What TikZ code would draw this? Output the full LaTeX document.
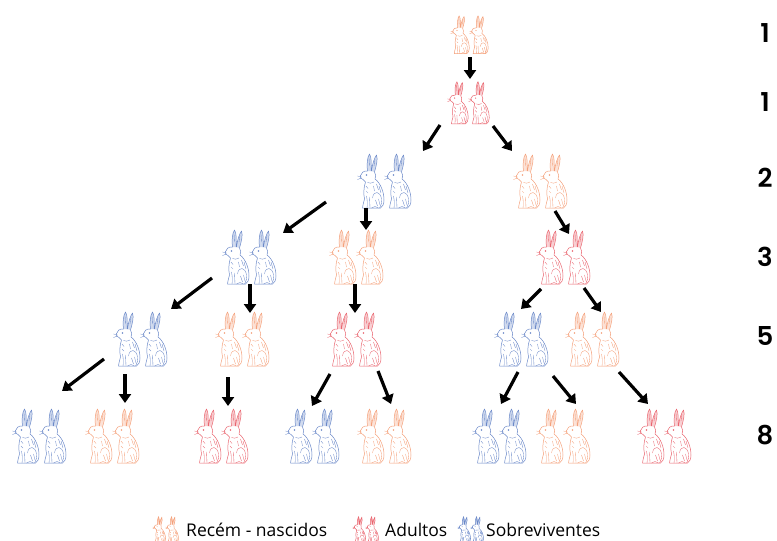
\documentclass[tikz,border=0pt]{standalone}
\usepackage{fontspec}
\setmainfont{Open Sans}
\newfontfamily\numfont{Poppins}[BoldFont={Poppins SemiBold}]
\usetikzlibrary{arrows.meta}
\definecolor{rorange}{HTML}{F4A07A}
\definecolor{rred}{HTML}{E9646E}
\definecolor{rblue}{HTML}{6A88C8}
\newcommand{\rabbitdraw}{%
  \begin{scope}[shift={(-13,-28)}]
    \fill[opacity=0.3] (9,19) .. controls (8,11) and (9,5) .. (11,2) .. controls (13,5) and (13,12) .. (12.5,19) -- cycle;
    \fill[opacity=0.3] (13,19) .. controls (14,11) and (16,6) .. (18,3) .. controls (19.5,7) and (18,13) .. (16,20) -- cycle;
    \draw[line width=0.5pt, line join=round]
      (9,19) .. controls (8,11) and (9,5) .. (11,2) .. controls (13,5) and (13,12) .. (12.5,19)
      (13,19) .. controls (14,11) and (16,6) .. (18,3) .. controls (19.5,7) and (18,13) .. (16,20)
      (9,19) .. controls (5,18.5) and (2.5,21) .. (1.8,24) .. controls (1.3,25.5) and (2.5,27) .. (4.5,27.5)
        .. controls (5.5,28.5) and (6.5,29.5) .. (7,30) .. controls (5,36) and (5,42) .. (6,47)
        .. controls (5,51) and (4,54) .. (4,56) -- (22,56) .. controls (24,55) and (25.5,52) .. (25.5,48)
        .. controls (25.5,40) and (22,31) .. (16.5,27) .. controls (17.5,25) and (17.5,22) .. (16,20);
    \draw[line width=0.35pt, line cap=round]
      (8,44) .. controls (9,49) and (9,53) .. (8.5,56)
      (11,45) -- (11.5,56)
      (14,46) .. controls (15,38) and (22,39) .. (23,47) .. controls (23.5,51) and (22.5,54) .. (21,56)
      (13,56) .. controls (15,54) and (18,54) .. (20,56)
      (9,30.5) .. controls (11,31.5) and (13,31.5) .. (15.5,30)
      (3,25) -- (-1,24) (3,26) -- (-1,27.5)
      (18,32) -- (20,38) (20.5,34) -- (22.5,41) (15,34) -- (16,39)
      (7.5,34) -- (9.5,36.5) (7.5,39) -- (9.5,41)
      (17,48) -- (19,54) (20,47) -- (21.5,53) (10.5,6) -- (11,14) (16.5,7) -- (15.5,14);
    \fill (8,23) circle[radius=0.9pt];
  \end{scope}}
\tikzset{
  rabbitpair/.pic={
    \begin{scope}[shift={(-13.5,0)}]\rabbitdraw\end{scope}
    \begin{scope}[shift={(13.5,0)}]\rabbitdraw\end{scope}
  },
  pairbox/.style={inner sep=0pt, minimum width=54pt, minimum height=58pt},
  arr/.style={line width=3.2pt, -{Triangle[width=12pt,length=9pt]}},
  count/.style={font=\numfont\bfseries\fontsize{26}{30}\selectfont, inner sep=0pt},
  legend/.style={font=\fontsize{17.5}{20}\selectfont, anchor=west, inner sep=0pt},
}
\begin{document}
\begin{tikzpicture}[x=1pt,y=-1pt]
\useasboundingbox (0,0) rectangle (777,541);

% pairs
\node[pairbox] (p00) at (470,34) {};
\pic[rorange, scale=0.7] at (p00) {rabbitpair};
\node[pairbox] (p10) at (469,102) {};
\pic[rred, scale=0.78] at (p10) {rabbitpair};

\node[pairbox] (p20) at (385,180) {};
\pic[rblue] at (p20) {rabbitpair};
\node[pairbox] (p21) at (541,180) {};
\pic[rorange] at (p21) {rabbitpair};

\node[pairbox] (p30) at (250,256) {};
\pic[rblue] at (p30) {rabbitpair};
\node[pairbox] (p31) at (357,256) {};
\pic[rorange] at (p31) {rabbitpair};
\node[pairbox] (p32) at (564,256) {};
\pic[rred] at (p32) {rabbitpair};

\node[pairbox] (p40) at (141,338) {};
\pic[rblue] at (p40) {rabbitpair};
\node[pairbox] (p41) at (243,338) {};
\pic[rorange] at (p41) {rabbitpair};
\node[pairbox] (p42) at (355,338) {};
\pic[rred] at (p42) {rabbitpair};
\node[pairbox] (p43) at (522,338) {};
\pic[rblue] at (p43) {rabbitpair};
\node[pairbox] (p44) at (593,338) {};
\pic[rorange] at (p44) {rabbitpair};

\node[pairbox] (p50) at (40,435) {};
\pic[rblue] at (p50) {rabbitpair};
\node[pairbox] (p51) at (113,435) {};
\pic[rorange] at (p51) {rabbitpair};
\node[pairbox] (p52) at (222,435) {};
\pic[rred] at (p52) {rabbitpair};
\node[pairbox] (p53) at (313,435) {};
\pic[rblue] at (p53) {rabbitpair};
\node[pairbox] (p54) at (385,435) {};
\pic[rorange] at (p54) {rabbitpair};
\node[pairbox] (p55) at (500,435) {};
\pic[rblue] at (p55) {rabbitpair};
\node[pairbox] (p56) at (564,435) {};
\pic[rorange] at (p56) {rabbitpair};
\node[pairbox] (p57) at (665,435) {};
\pic[rred] at (p57) {rabbitpair};

% arrow ends
\coordinate (a01s) at (470,57);  \coordinate (a01e) at (470,79);
\coordinate (a1Ls) at (440,125); \coordinate (a1Le) at (423,151);
\coordinate (a1Rs) at (493,126); \coordinate (a1Re) at (512,151);
\coordinate (a2as) at (326,202); \coordinate (a2ae) at (283,233);
\coordinate (a2bs) at (366,208); \coordinate (a2be) at (366,230);
\coordinate (a2cs) at (555,211); \coordinate (a2ce) at (569,234);
\coordinate (a3as) at (212,278); \coordinate (a3ae) at (171,309);
\coordinate (a3bs) at (250,284); \coordinate (a3be) at (250,313);
\coordinate (a3cs) at (355,284); \coordinate (a3ce) at (355,313);
\coordinate (a3ds) at (541,289); \coordinate (a3de) at (521,309);
\coordinate (a3es) at (584,288); \coordinate (a3ee) at (601,312);
\coordinate (a4as) at (104,359); \coordinate (a4ae) at (62,391);
\coordinate (a4bs) at (125,374); \coordinate (a4be) at (125,403);
\coordinate (a4cs) at (228,377); \coordinate (a4ce) at (228,406);
\coordinate (a4ds) at (330,374); \coordinate (a4de) at (312,406);
\coordinate (a4es) at (378,371); \coordinate (a4ee) at (391,404);
\coordinate (a4fs) at (518,372); \coordinate (a4fe) at (501,404);
\coordinate (a4gs) at (553,376); \coordinate (a4ge) at (576,404);
\coordinate (a4hs) at (619,372); \coordinate (a4he) at (648,404);

\foreach \a in {01,1L,1R,2a,2b,2c,3a,3b,3c,3d,3e,4a,4b,4c,4d,4e,4f,4g,4h}
  \draw[arr] (a\a s) -- (a\a e);

% counts
\node[count] (n0) at (765,33) {1};
\node[count] (n1) at (765,102) {1};
\node[count] (n2) at (765,178) {2};
\node[count] (n3) at (765,257) {3};
\node[count] (n4) at (765,336) {5};
\node[count] (n5) at (765,435) {8};

% legend
\node[pairbox, minimum width=27pt, minimum height=26pt] (l0) at (166,529) {};
\pic[rorange, scale=0.48] at (l0) {rabbitpair};
\node[legend] (t0) at (186,530) {Recém - nascidos};
\node[pairbox, minimum width=27pt, minimum height=26pt] (l1) at (366,529) {};
\pic[rred, scale=0.48] at (l1) {rabbitpair};
\node[legend] (t1) at (385,530) {Adultos};
\node[pairbox, minimum width=27pt, minimum height=26pt] (l2) at (471,529) {};
\pic[rblue, scale=0.48] at (l2) {rabbitpair};
\node[legend] (t2) at (486,530) {Sobreviventes};
\end{tikzpicture}
\end{document}
